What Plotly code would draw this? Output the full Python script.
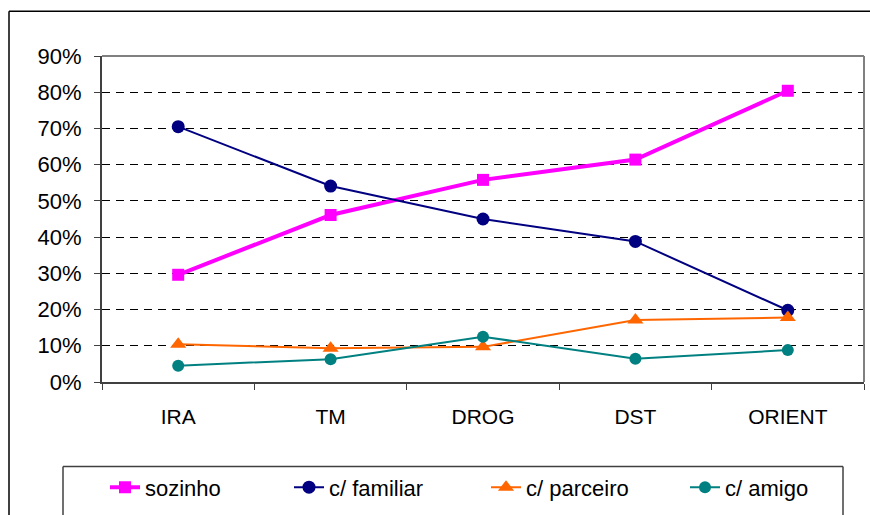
import plotly.graph_objects as go

categories = ["IRA", "TM", "DROG", "DST", "ORIENT"]
sozinho = [0.296, 0.461, 0.558, 0.614, 0.804]
familiar = [0.705, 0.541, 0.450, 0.388, 0.198]
parceiro = [0.104, 0.093, 0.097, 0.171, 0.178]
amigo = [0.045, 0.063, 0.125, 0.064, 0.088]
y_ticks = [0, 0.1, 0.2, 0.3, 0.4, 0.5, 0.6, 0.7, 0.8, 0.9]
y_labels = ["0%", "10%", "20%", "30%", "40%", "50%", "60%", "70%", "80%", "90%"]

FONT = "Liberation Sans, Arial, sans-serif"

series = [
    ("sozinho", sozinho, "#FF00FF", 4, "square", 12, "legend"),
    ("c/ familiar", familiar, "#000080", 2, "circle", 13, "legend2"),
    ("c/ parceiro", parceiro, "#FF6600", 2, "triangle-up", 14, "legend3"),
    ("c/ amigo", amigo, "#008080", 2, "circle", 12, "legend4"),
]

fig = go.Figure()
for name, vals, color, lw, sym, ms, lg in series:
    fig.add_trace(go.Scatter(
        x=categories, y=vals, name=name, mode="lines+markers",
        line=dict(color=color, width=lw),
        marker=dict(symbol=sym, size=ms, color=color, line=dict(width=0)),
        legend=lg,
    ))

W, H = 870, 515
L, R, T, B = 102, 6, 56, 131
pw = W - L - R
ph = H - T - B

def px(x):
    return (x - L) / pw

def py(y):
    return (H - B - y) / ph

legend_text_x = [147, 331, 528, 727]
leg_common = dict(font=dict(family=FONT, size=22, color="#000"), bgcolor="rgba(0,0,0,0)",
                  borderwidth=0, orientation="h", xanchor="left", yanchor="middle")
legends = {}
for i, tx in enumerate(legend_text_x):
    key = "legend" if i == 0 else f"legend{i+1}"
    legends[key] = dict(leg_common, x=px(tx - 42), y=py(490))

def pline(x0, y0, x1, y1, color, width, layer="below"):
    return dict(type="line", xref="paper", yref="paper", x0=px(x0), x1=px(x1),
                y0=py(y0), y1=py(y1), line=dict(color=color, width=width), layer=layer)

fig.update_layout(
    width=W, height=H,
    margin=dict(l=L, r=R, t=T, b=B, pad=0),
    paper_bgcolor="white", plot_bgcolor="white",
    font=dict(family=FONT, size=22, color="#000"),
    showlegend=True,
    **legends,
    xaxis=dict(
        type="category", range=[-0.5, 4.5], showgrid=False, zeroline=False,
        showline=True, linecolor="#404040", linewidth=2,
        ticks="outside", ticklen=6, tickcolor="#404040", tickwidth=1,
        tickson="boundaries", ticklabelstandoff=15,
        tickfont=dict(family=FONT, size=21, color="#000"),
    ),
    yaxis=dict(
        range=[0, 0.9], tickvals=y_ticks, ticktext=y_labels,
        showgrid=True, gridcolor="#000", gridwidth=1, griddash="8px,6px",
        zeroline=False, showline=True, linecolor="#404040", linewidth=2,
        ticks="outside", ticklen=6, tickcolor="#404040", tickwidth=1,
        ticklabelstandoff=8,
        tickfont=dict(family=FONT, size=22, color="#000"),
    ),
    shapes=[
        dict(type="line", xref="paper", yref="paper", x0=0, x1=1, y0=1, y1=1,
             line=dict(color="#808080", width=2), layer="above"),
        dict(type="line", xref="paper", yref="paper", x0=1, x1=1, y0=0, y1=1,
             line=dict(color="#808080", width=2), layer="above"),
        pline(9, 11, 875, 11, "#000", 1.5),
        pline(9, 11, 9, 520, "#000", 1.5),
        pline(63, 469, 843, 469, "#404040", 1.5),
        pline(63, 469, 63, 520, "#404040", 1.5),
        pline(843, 469, 843, 520, "#404040", 1.5),
    ],
)

fig.write_html(
    "out.html",
    config={"displayModeBar": False},
    post_script="document.body.style.margin='0';document.body.style.overflow='hidden';",
)
